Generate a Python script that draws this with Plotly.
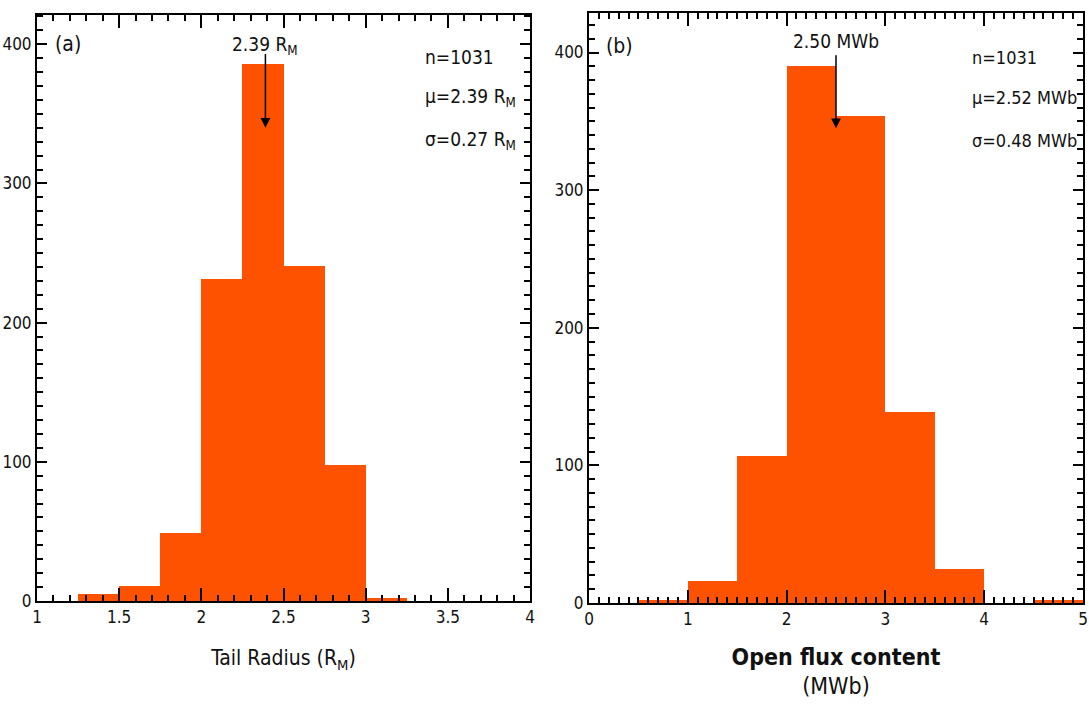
import plotly.graph_objects as go

# ---- data ----
tail_edges = [1.25, 1.5, 1.75, 2.0, 2.25, 2.5, 2.75, 3.0, 3.25]
tail_counts = [5, 11, 49, 231, 386, 241, 98, 2]

flux_edges = [0.5, 1.0, 1.5, 2.0, 2.5, 3.0, 3.5, 4.0, 4.5, 5.0]
flux_counts = [2, 16, 107, 390, 354, 139, 25, 0, 2]

tail_stats = ["n=1031", "μ=2.39 R<sub>M</sub>", "σ=0.27 R<sub>M</sub>"]
flux_stats = ["n=1031", "μ=2.52 MWb", "σ=0.48 MWb"]
tail_mean_mark = 2.39
flux_mean_mark = 2.50

BAR = "#ff5200"
FONT = "DejaVu Sans Condensed, Liberation Sans Narrow, DejaVu Sans, sans-serif"
INK = "#111111"

def fnt(size, **kw):
    d = dict(family=FONT, size=size, color=INK)
    d.update(kw)
    return d

def centers(edges):
    return [(a + b) / 2 for a, b in zip(edges[:-1], edges[1:])]

def widths(edges):
    return [b - a for a, b in zip(edges[:-1], edges[1:])]

fig = go.Figure()
fig.add_trace(go.Bar(x=centers(tail_edges), y=tail_counts, width=widths(tail_edges),
                     marker=dict(color=BAR, line=dict(width=0)), xaxis="x", yaxis="y",
                     showlegend=False))
fig.add_trace(go.Bar(x=centers(flux_edges), y=flux_counts, width=widths(flux_edges),
                     marker=dict(color=BAR, line=dict(width=0)), xaxis="x2", yaxis="y2",
                     showlegend=False))

W, H = 1089, 715

def axis_common():
    return dict(showline=True, linecolor="black", linewidth=2, mirror="ticks",
                ticks="inside", ticklen=13, tickwidth=2, tickcolor="black",
                showgrid=False, zeroline=False, automargin=False,
                tickfont=fnt(17))

xa = axis_common()
xa.update(domain=[37 / W, 530 / W], range=[1, 4], dtick=0.5, tick0=1,
          minor=dict(ticks="inside", dtick=0.1, ticklen=6, tickwidth=1.5, tickcolor="black"),
          anchor="y",
          title=dict(text="Tail Radius (R<sub>M</sub>)", font=fnt(21), standoff=24))
ya = axis_common()
ya.update(domain=[(H - 601) / H, (H - 15) / H], range=[0, 421], dtick=100,
          minor=dict(ticks="inside", dtick=10, ticklen=6, tickwidth=1.5, tickcolor="black"),
          anchor="x", ticklen=10)

xa2 = axis_common()
xa2.update(domain=[589 / W, 1083 / W], range=[0, 5], dtick=1, tick0=0,
           minor=dict(ticks="inside", dtick=0.1, ticklen=6, tickwidth=1.5, tickcolor="black"),
           anchor="y2",
           title=dict(text="<b>Open flux content</b><br>(MWb)", font=fnt(23), standoff=20))
ya2 = axis_common()
ya2.update(domain=[(H - 603) / H, (H - 13) / H], range=[0, 428.7], dtick=100,
           minor=dict(ticks="inside", dtick=10, ticklen=6, tickwidth=1.5, tickcolor="black"),
           anchor="x2", ticklen=10)

annots = []
# panel labels
annots.append(dict(text="(a)", xref="x", yref="y", x=1.1, y=400, xanchor="left", yanchor="middle",
                   showarrow=False, font=fnt(21)))
annots.append(dict(text="(b)", xref="x2", yref="y2", x=0.15, y=404.5, xanchor="left", yanchor="middle",
                   showarrow=False, font=fnt(21)))
# mean arrows
annots.append(dict(x=tail_mean_mark, y=340, ax=tail_mean_mark, ay=394, xref="x", yref="y",
                   axref="x", ayref="y", showarrow=True, arrowhead=2, arrowsize=1.3,
                   arrowwidth=1.5, arrowcolor="black", text=""))
annots.append(dict(text="2.39 R<sub>M</sub>", xref="x", yref="y", x=tail_mean_mark, y=399,
                   xanchor="center", yanchor="middle", showarrow=False, font=fnt(19)))
annots.append(dict(x=flux_mean_mark, y=345, ax=flux_mean_mark, ay=399, xref="x2", yref="y2",
                   axref="x2", ayref="y2", showarrow=True, arrowhead=2, arrowsize=1.3,
                   arrowwidth=1.5, arrowcolor="black", text=""))
annots.append(dict(text="2.50 MWb", xref="x2", yref="y2", x=flux_mean_mark, y=408,
                   xanchor="center", yanchor="middle", showarrow=False, font=fnt(19)))
# stats
tail_y = [391, 362, 331]
flux_y = [396.5, 367, 336]
for s, yy in zip(tail_stats, tail_y):
    annots.append(dict(text=s, xref="x", yref="y", x=3.35, y=yy,
                       xanchor="left", yanchor="middle", showarrow=False, font=fnt(19)))
for s, yy in zip(flux_stats, flux_y):
    annots.append(dict(text=s, xref="x2", yref="y2", x=3.86, y=yy,
                       xanchor="left", yanchor="middle", showarrow=False, font=fnt(18)))

fig.update_layout(width=W, height=H, margin=dict(l=0, r=0, t=0, b=0),
                  paper_bgcolor="white", plot_bgcolor="white", bargap=0,
                  xaxis=xa, yaxis=ya, xaxis2=xa2, yaxis2=ya2, annotations=annots,
                  font=fnt(17))

fig.write_html("out.html")
